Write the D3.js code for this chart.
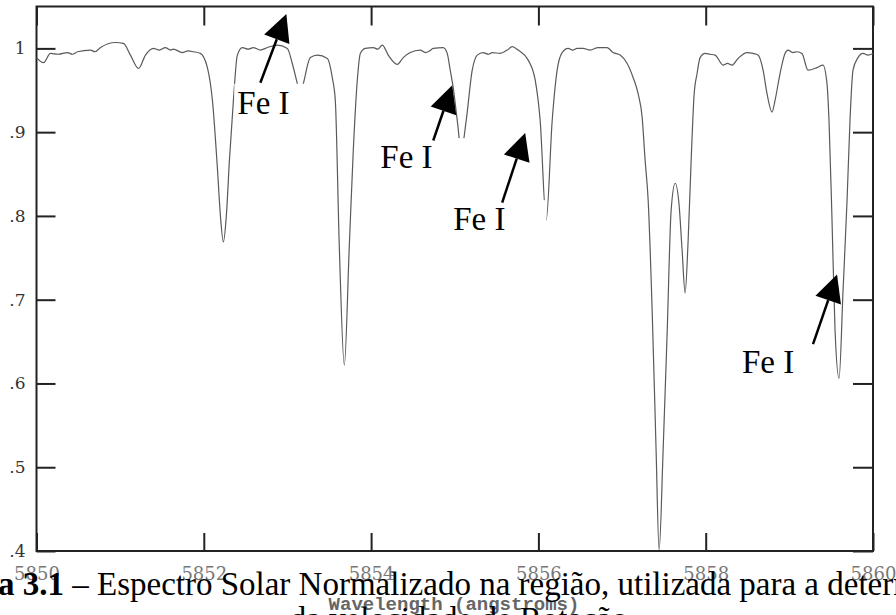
<!DOCTYPE html>
<html>
<head>
<meta charset="utf-8">
<script src="https://cdn.jsdelivr.net/npm/d3@7"></script>
<style>
  body { margin: 0; background: #fff; }
  svg { display: block; }
</style>
</head>
<body>
<svg width="896" height="615"></svg>
<script>
// solar spectrum, normalised flux vs wavelength (angstroms)
var wavelength = [
  5850.000, 5850.084, 5850.167, 5850.260, 5850.370, 5850.430, 5850.490, 5850.645, 5850.700, 5850.765,
  5850.944, 5851.039, 5851.123, 5851.219, 5851.303, 5851.398, 5851.470, 5851.541, 5851.600, 5851.637,
  5851.744, 5851.810, 5851.876, 5851.959, 5852.043, 5852.103, 5852.162, 5852.198, 5852.234, 5852.270,
  5852.306, 5852.354, 5852.401, 5852.461, 5852.530, 5852.593, 5852.676, 5852.760, 5852.879, 5852.999,
  5853.058, 5853.118, 5853.154, 5853.190, 5853.274, 5853.357, 5853.477, 5853.536, 5853.572, 5853.620,
  5853.680, 5853.739, 5853.787, 5853.835, 5853.871, 5853.930, 5854.026, 5854.080, 5854.134, 5854.205,
  5854.313, 5854.384, 5854.468, 5854.588, 5854.647, 5854.700, 5854.743, 5854.862, 5854.910, 5854.946,
  5854.982, 5855.030, 5855.078, 5855.137, 5855.209, 5855.269, 5855.340, 5855.400, 5855.448, 5855.543,
  5855.627, 5855.687, 5855.758, 5855.878, 5855.962, 5856.021, 5856.093, 5856.165, 5856.224, 5856.284,
  5856.356, 5856.410, 5856.463, 5856.535, 5856.619, 5856.714, 5856.822, 5856.893, 5856.977, 5857.061,
  5857.133, 5857.192, 5857.240, 5857.276, 5857.312, 5857.360, 5857.407, 5857.443, 5857.491, 5857.539,
  5857.587, 5857.635, 5857.682, 5857.718, 5857.754, 5857.790, 5857.826, 5857.861, 5857.897, 5857.933,
  5857.993, 5858.050, 5858.112, 5858.208, 5858.260, 5858.315, 5858.387, 5858.494, 5858.566, 5858.626,
  5858.686, 5858.733, 5858.793, 5858.829, 5858.889, 5858.948, 5858.984, 5859.040, 5859.092, 5859.151,
  5859.223, 5859.331, 5859.402, 5859.450, 5859.474, 5859.510, 5859.546, 5859.594, 5859.642, 5859.690,
  5859.725, 5859.761, 5859.821, 5859.881, 5859.940, 5860.000
];
var flux = [
  0.989, 0.983, 0.994, 0.993, 0.995, 0.993, 0.996, 0.998, 0.996, 1.001,
  1.007, 1.006, 0.992, 0.976, 0.992, 1.000, 0.998, 1.001, 0.998, 0.999,
  0.995, 0.997, 0.996, 0.994, 0.977, 0.938, 0.858, 0.801, 0.769, 0.801,
  0.866, 0.938, 0.992, 1.001, 0.999, 1.001, 0.998, 1.001, 1.004, 1.000,
  0.982, 0.958, 0.944, 0.958, 0.989, 0.992, 0.988, 0.965, 0.938, 0.763,
  0.622, 0.763, 0.878, 0.962, 0.994, 1.000, 1.001, 0.999, 1.004, 0.992,
  0.981, 0.989, 0.995, 0.998, 0.995, 0.997, 1.000, 1.001, 0.994, 0.974,
  0.953, 0.914, 0.878, 0.914, 0.974, 0.992, 0.995, 0.993, 0.995, 0.994,
  0.998, 1.002, 0.998, 0.986, 0.962, 0.914, 0.795, 0.914, 0.974, 0.995,
  1.000, 0.998, 1.000, 1.000, 0.998, 1.001, 1.001, 0.995, 0.992, 0.982,
  0.965, 0.946, 0.918, 0.866, 0.819, 0.687, 0.520, 0.401, 0.520, 0.660,
  0.807, 0.839, 0.813, 0.759, 0.708, 0.771, 0.866, 0.944, 0.970, 0.989,
  0.994, 0.993, 0.992, 0.980, 0.982, 0.980, 0.988, 0.995, 0.994, 0.992,
  0.974, 0.946, 0.924, 0.938, 0.970, 0.994, 0.998, 0.995, 0.996, 0.994,
  0.974, 0.977, 0.980, 0.958, 0.914, 0.795, 0.664, 0.606, 0.711, 0.819,
  0.914, 0.974, 0.989, 0.994, 0.992, 0.994
];

var xTicks = [5850, 5852, 5854, 5856, 5858, 5860];
var yTicks = [0.4, 0.5, 0.6, 0.7, 0.8, 0.9, 1.0];
var yTickLabels = ['.4', '.5', '.6', '.7', '.8', '.9', '1'];

// "Fe I" notes: arrow tip, arrow tail and text corner, in wavelength / flux
var noteText = ['Fe I', 'Fe I', 'Fe I', 'Fe I'];
var noteTip = [[5852.987, 1.041], [5854.970, 0.956], [5855.842, 0.899], [5859.570, 0.730]];
var noteTail = [[5852.676, 0.959], [5854.743, 0.890], [5855.567, 0.816], [5859.283, 0.647]];
var noteAt = [[5852.401, 0.922], [5854.110, 0.857], [5854.982, 0.783], [5858.434, 0.612]];

var captionBold = 'Figura 3.1';
var captionRest = ' \u2013 Espectro Solar Normalizado na regi\u00e3o, utilizada para a determina\u00e7\u00e3o';
var captionLine2 = 'da velocidade de Rota\u00e7\u00e3o.';
var xTitle = 'Wavelength (angstroms)';

var svg = d3.select('svg');
var plotL = 36.5, plotR = 873, plotT = 6.5, plotB = 551;

var x = d3.scaleLinear().domain([5850, 5860]).range([plotL, plotR]);
var y = d3.scaleLinear().domain([0.4, 1.05]).range([plotB, plotT]);

// axes: inward ticks on all four sides, labels only bottom / left
var axB = svg.append('g').attr('transform', 'translate(0,' + plotB + ')')
  .call(d3.axisBottom(x).tickValues(xTicks).tickSize(-18).tickPadding(16)
    .tickFormat(function (d) { return d; }));
var axT = svg.append('g').attr('transform', 'translate(0,' + plotT + ')')
  .call(d3.axisTop(x).tickValues(xTicks).tickSize(-19).tickFormat(''));
var axL = svg.append('g').attr('transform', 'translate(' + plotL + ',0)')
  .call(d3.axisLeft(y).tickValues(yTicks).tickSize(-19).tickPadding(11)
    .tickFormat(function (d, i) { return yTickLabels[i]; }));
var axR = svg.append('g').attr('transform', 'translate(' + plotR + ',0)')
  .call(d3.axisRight(y).tickValues(yTicks).tickSize(-20).tickFormat(''));

svg.selectAll('.domain').remove();
svg.selectAll('.tick line').attr('stroke', '#222').attr('stroke-width', 2);
axB.selectAll('text').attr('font-family', 'DejaVu Serif').attr('font-size', 18).attr('fill', '#777');
axL.selectAll('text').attr('font-family', 'DejaVu Serif').attr('font-size', 17).attr('fill', '#333');

svg.append('rect')
  .attr('x', plotL).attr('y', plotT)
  .attr('width', plotR - plotL).attr('height', plotB - plotT)
  .attr('fill', 'none').attr('stroke', '#222').attr('stroke-width', 2);

var pts = wavelength.map(function (w, i) { return [w, flux[i]]; });
var line = d3.line()
  .x(function (d) { return x(d[0]); })
  .y(function (d) { return y(d[1]); })
  .curve(d3.curveMonotoneX);

svg.append('path').datum(pts)
  .attr('d', line)
  .attr('fill', 'none')
  .attr('stroke', '#5a5a5a')
  .attr('stroke-width', 1.2);

// notes (white text boxes pasted over the plot)
var notes = svg.append('g');
noteText.forEach(function (t, i) {
  var tx = x(noteAt[i][0]), ty = y(noteAt[i][1]);
  notes.append('rect')
    .attr('x', tx - 3).attr('y', ty - 30)
    .attr('width', 96).attr('height', 42)
    .attr('fill', '#fff');
  notes.append('text')
    .attr('x', tx).attr('y', ty)
    .attr('font-family', 'Liberation Serif')
    .attr('font-size', 33)
    .attr('fill', '#000')
    .text(t);

  var x0 = x(noteTail[i][0]), y0 = y(noteTail[i][1]);
  var x1 = x(noteTip[i][0]), y1 = y(noteTip[i][1]);
  var dx = x1 - x0, dy = y1 - y0, len = Math.sqrt(dx * dx + dy * dy);
  var ux = dx / len, uy = dy / len;
  var headLen = 27, halfW = 13.5;
  var bx = x1 - ux * headLen, by = y1 - uy * headLen;
  notes.append('line')
    .attr('x1', x0).attr('y1', y0).attr('x2', bx).attr('y2', by)
    .attr('stroke', '#000').attr('stroke-width', 2.5);
  notes.append('path')
    .attr('d', 'M' + x1 + ',' + y1 +
      'L' + (bx - uy * halfW) + ',' + (by + ux * halfW) +
      'L' + (bx + uy * halfW) + ',' + (by - ux * halfW) + 'Z')
    .attr('fill', '#000');
});

// x axis title
svg.append('text')
  .attr('x', 454).attr('y', 610)
  .attr('text-anchor', 'middle')
  .attr('font-family', 'Liberation Mono')
  .attr('font-weight', 'bold')
  .attr('font-size', 19)
  .attr('fill', '#666')
  .text(xTitle);

// caption of the document, cropped by the picture
var cap = svg.append('text')
  .attr('y', 595)
  .attr('font-family', 'Liberation Serif')
  .attr('font-size', 33)
  .attr('fill', '#000');
cap.append('tspan').attr('font-weight', 'bold').text(captionBold);
cap.append('tspan').text(captionRest);
var full = captionBold + captionRest;
var shift = cap.node().getSubStringLength(0, full.indexOf('Espectro'));
cap.attr('x', 97 - shift);

svg.append('text')
  .attr('x', 463).attr('y', 630)
  .attr('text-anchor', 'middle')
  .attr('font-family', 'Liberation Serif')
  .attr('font-size', 33)
  .attr('fill', '#000')
  .text(captionLine2);
</script>
</body>
</html>
